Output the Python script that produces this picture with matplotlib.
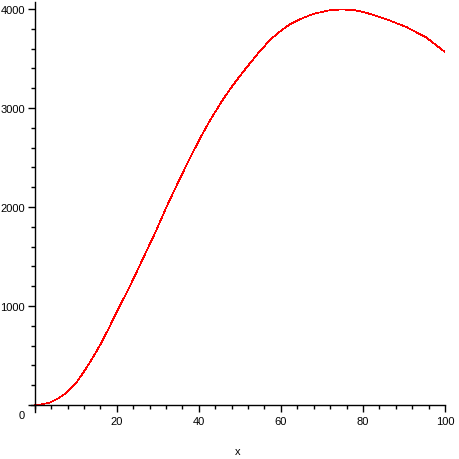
import matplotlib
matplotlib.use("Agg")
import matplotlib.pyplot as plt
import matplotlib.transforms as mtransforms
from matplotlib.ticker import MultipleLocator

# values
x_vals = [0, 1.75, 3.8, 5.8, 7.85, 9.9, 11.9, 13.95, 16, 18, 20, 23.2, 26.4, 29.7,
          32, 35.2, 37.9, 40.4, 42.8, 46.1, 48.5, 50.9, 54.2, 57.4, 60, 62.2, 64.6,
          67.9, 72, 75, 78.3, 80.9, 85.8, 90.7, 95.5, 100]
y_vals = [0, 7, 27, 68, 128, 212, 330, 465, 610, 770, 940, 1200, 1480, 1770,
          1990, 2270, 2500, 2700, 2880, 3100, 3240, 3370, 3540, 3690, 3780, 3845, 3895,
          3950, 3988, 3995, 3985, 3960, 3895, 3815, 3710, 3565]

x_ticks = [20, 40, 60, 80, 100]
y_ticks = [0, 1000, 2000, 3000, 4000]

plt.rcParams['font.family'] = ['Liberation Sans', 'DejaVu Sans']

fig = plt.figure(figsize=(4.6, 4.6), dpi=100)
ax = fig.add_axes([31 / 460, 47 / 460, 414 / 460, 410 / 460])

ax.plot(x_vals, y_vals, color='#ff0000', linewidth=0.5, antialiased=False)

ax.set_xlim(-0.9, 100)
ax.set_ylim(-70, 4070)

# Maple style axes crossing at the origin
for side in ['top', 'right']:
    ax.spines[side].set_visible(False)
ax.spines['left'].set_position(('data', 0))
ax.spines['bottom'].set_position(('data', 0))
ax.spines['left'].set_linewidth(1.0)
ax.spines['bottom'].set_linewidth(1.0)

ax.set_xticks(x_ticks)
ax.set_yticks(y_ticks)
ax.xaxis.set_minor_locator(MultipleLocator(4))
ax.yaxis.set_minor_locator(MultipleLocator(200))
ax.tick_params(axis='both', which='major', length=5, width=1, labelsize=8,
               direction='out', pad=3)
ax.tick_params(axis='both', which='minor', length=3, width=1, direction='out')
ax.tick_params(axis='y', pad=2)

# shift the "0" label under the x axis like the original
for lab in ax.get_yticklabels():
    if lab.get_text() == '0':
        lab.set_transform(lab.get_transform() +
                          mtransforms.ScaledTranslation(0, -9 / 100, fig.dpi_scale_trans))

fig.text(238 / 460, 1 - 452 / 460, 'x', ha='center', va='center', fontsize=8)

fig.savefig('out.png', dpi=100)
